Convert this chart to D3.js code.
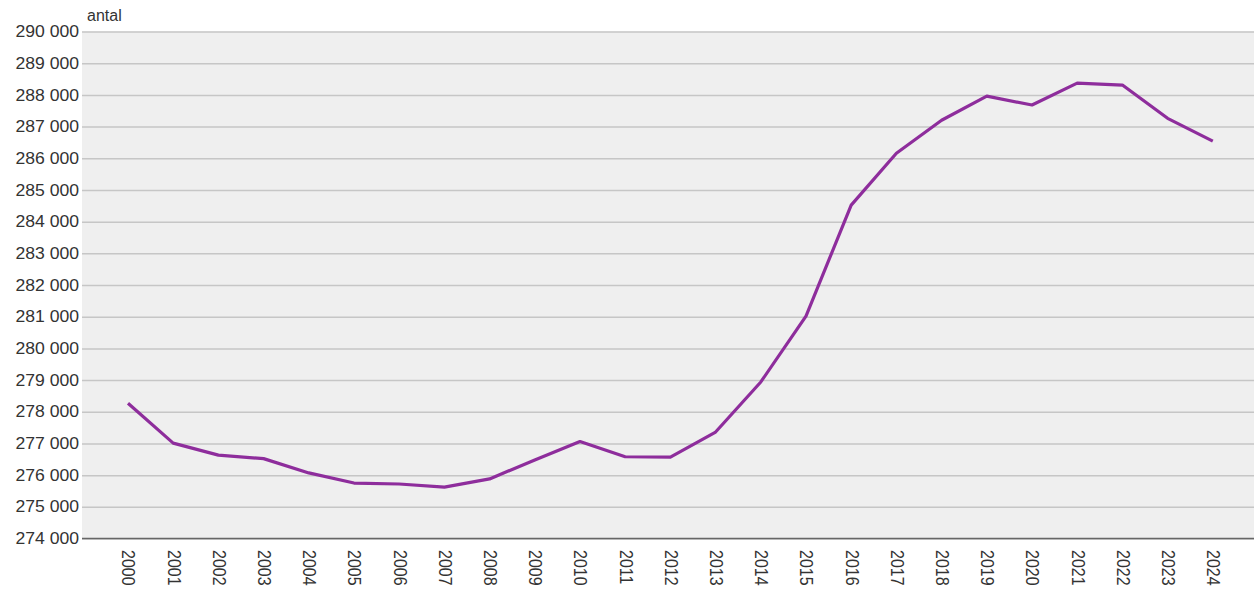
<!DOCTYPE html>
<html><head><meta charset="utf-8">
<script src="https://cdn.jsdelivr.net/npm/d3@7"></script>
<style>body{margin:0;background:#fff;}svg{display:block;font-family:"Liberation Sans",Arial,sans-serif;}</style>
</head><body>
<svg id="c" width="1254" height="591"></svg>
<script>
const years = ["2000","2001","2002","2003","2004","2005","2006","2007","2008","2009","2010","2011","2012","2013","2014","2015","2016","2017","2018","2019","2020","2021","2022","2023","2024"];
const values = [278270,277010,276630,276520,276070,275750,275720,275620,275880,276480,277060,276580,276570,277360,278940,281020,284520,286160,287200,287960,287680,288370,288310,287260,286540];
const yTicks = [274000,275000,276000,277000,278000,279000,280000,281000,282000,283000,284000,285000,286000,287000,288000,289000,290000];
const yLabel = "antal";

const svg = d3.select("#c");
const mLeft = 82, mRight = 1254, mTop = 31.5, mBottom = 538.5;
const step = 45.2;
const sx = 1.1;
const x = d3.scalePoint().domain(years).range([128, 128 + step*(years.length-1)]);
const y = d3.scaleLinear().domain([274000,290000]).range([mBottom, mTop]);
const fmt = v => d3.format(",")(v).replace(/,/g, " ");

svg.append("rect").attr("x", mLeft).attr("y", mTop).attr("width", mRight-mLeft).attr("height", mBottom-mTop).attr("fill", "#efefef");

const ya = svg.append("g").attr("transform", `translate(${mLeft},0)`)
  .call(d3.axisLeft(y).tickValues(yTicks).tickFormat(fmt).tickSize(-(mRight-mLeft)).tickPadding(3));
ya.select(".domain").remove();
ya.selectAll(".tick line").attr("stroke", "#c6c6c6").attr("stroke-width", 1.5);
ya.selectAll(".tick text").attr("fill", "#333").attr("font-size", 16).attr("font-family", "Liberation Sans, Arial, sans-serif")
  .attr("x", -3 / sx).attr("transform", `scale(${sx},1)`);

svg.append("line").attr("x1", mLeft).attr("x2", mRight).attr("y1", mBottom).attr("y2", mBottom).attr("stroke", "#666").attr("stroke-width", 1.5);

const xa = svg.append("g").attr("transform", `translate(0,${mBottom})`)
  .call(d3.axisBottom(x).tickSize(0));
xa.select(".domain").remove();
xa.selectAll(".tick text").attr("fill", "#333").attr("font-size", 16).attr("font-family", "Liberation Sans, Arial, sans-serif")
  .attr("text-anchor", "start").attr("transform", `translate(0,11.5) scale(${sx},1) rotate(90)`).attr("x", 0).attr("y", 0).attr("dy", "0.35em");

svg.append("text").attr("x", 87).attr("y", 21).attr("fill", "#333").attr("font-size", 16).text(yLabel);

const line = d3.line().x((d,i) => x(years[i])).y(d => y(d));
svg.append("path").datum(values).attr("d", line).attr("fill", "none").attr("stroke", "#8e2d9c").attr("stroke-width", 3.2).attr("stroke-linejoin", "round");
</script>
</body></html>
